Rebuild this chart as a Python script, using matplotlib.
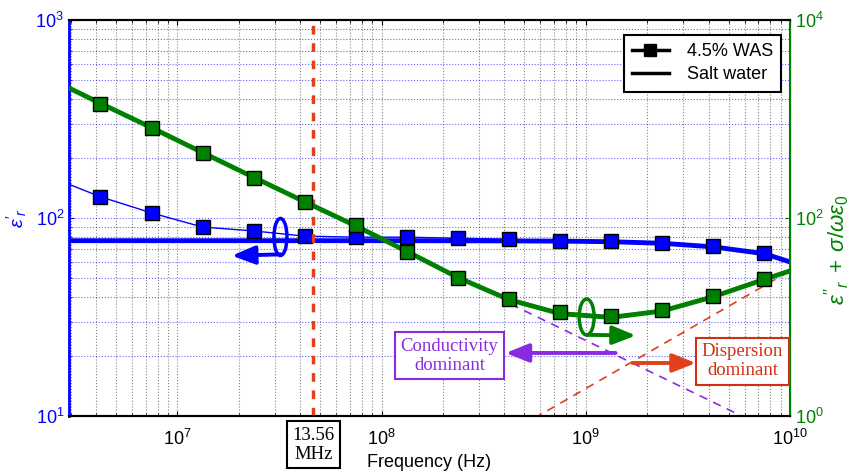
import numpy as np
import matplotlib
matplotlib.use('Agg')
import matplotlib.pyplot as plt
from matplotlib.lines import Line2D
from matplotlib.patches import Ellipse
from matplotlib.transforms import ScaledTranslation
from matplotlib.ticker import LogLocator, NullLocator, NullFormatter

plt.rcParams['font.family'] = ['Liberation Sans', 'DejaVu Sans']
plt.rcParams['mathtext.fontset'] = 'custom'
plt.rcParams['mathtext.rm'] = 'Liberation Sans'
plt.rcParams['mathtext.it'] = 'Liberation Sans:italic'
plt.rcParams['mathtext.bf'] = 'Liberation Sans:bold'

# frequency grid (Hz): left edge, measured points, right edge
freq = [2.95e6, 4.2e6, 7.5e6, 1.33e7, 2.37e7, 4.2e7, 7.5e7, 1.33e8, 2.37e8,
        4.2e8, 7.5e8, 1.33e9, 2.37e9, 4.2e9, 7.5e9, 1.0e10]

# 4.5% WAS
was_eps1 = [148, 128, 106, 90, 86, 81, 80, 80, 79, 78, 76.6, 76.6, 74.8, 72.3, 66.5, 60]
was_eps2 = [2056, 1419, 811, 454, 253, 145, 85, 45.4, 24.8, 15.2, 11.2, 10.2, 11.8, 16.3, 24.2, 29.2]

# salt water
sw_eps1 = [76.8, 76.8, 76.8, 76.8, 76.8, 76.8, 76.8, 76.8, 76.7, 76.6, 76.4, 75.9, 74.5, 71.5, 66.0, 60]
sw_eps2 = [2056, 1440, 815, 458, 257, 146, 83, 46, 25, 15, 10.8, 9.9, 11.5, 16.0, 24.0, 29.2]

# asymptotes
cond_f = [4.29e8, 5.8e9]
cond_v = [13.5, 1.0]
disp_f = [5.6e8, 1.0e10]
disp_v = [0.95, 29.2]
f_rf = 4.64e7

blue = '#0000ff'
green = '#008000'
purple = '#8a2be2'
red = '#e0401a'

fig = plt.figure(figsize=(8.51, 4.74), dpi=100)
ax = fig.add_axes([0.0811, 0.1224, 0.8472, 0.8354])
ax2 = ax.twinx()

ax.set_xscale('log')
ax.set_yscale('log')
ax2.set_yscale('log')
ax.set_xlim(2.95e6, 1e10)
ax.set_ylim(10, 1000)
ax2.set_ylim(1, 1e4)

# grid
ax.grid(True, which='both', axis='y', color=blue, ls=':', lw=0.8, alpha=0.6)
ax.grid(True, which='both', axis='x', color='#555555', ls=':', lw=0.8, alpha=0.7)
ax.set_axisbelow(True)

# left axis curves
ax.plot(freq, sw_eps1, color=blue, lw=3.5, zorder=3)
ax.plot(freq, was_eps1, color=blue, lw=1.0, marker='s', ms=10, mfc=blue,
        mec='black', mew=1.0, markevery=slice(1, -1), zorder=4)

# right axis curves
ax2.plot(freq, sw_eps2, color=green, lw=3.5, zorder=3)
ax2.plot(freq, was_eps2, color=green, lw=1.0, marker='s', ms=10, mfc=green,
         mec='black', mew=1.0, markevery=slice(1, -1), zorder=4)
ax2.plot(cond_f, cond_v, color=purple, ls=(0, (5, 4)), lw=1.2)
ax2.plot(disp_f, disp_v, color=red, ls=(0, (5, 4)), lw=1.2)
ax2.axvline(f_rf, color=red, ls=(0, (2.5, 2.5)), lw=2.5)

# ellipses + arrows
def ellipse(a, x, y, w, h, c):
    tr = fig.dpi_scale_trans + ScaledTranslation(x, y, a.transData)
    a.add_patch(Ellipse((0, 0), w, h, transform=tr, fill=False, ec=c, lw=2.5, zorder=6))

def arrow(a, x0, y0, x1, y1, c):
    a.annotate('', xy=(x1, y1), xytext=(x0, y0),
               arrowprops=dict(arrowstyle='-|>,head_width=0.4,head_length=1.0',
                               color=c, lw=2.8, shrinkA=0, shrinkB=0,
                               mutation_scale=14), zorder=6)

ellipse(ax, 3.2e7, 80.2, 0.13, 0.37, blue)
arrow(ax, 3.2e7, 65.5, 1.85e7, 64.5, blue)
ellipse(ax2, 1.01e9, 10.0, 0.15, 0.36, green)
arrow(ax2, 1.02e9, 6.6, 1.76e9, 6.5, green)
arrow(ax2, 1.40e9, 4.33, 4.05e8, 4.33, purple)
arrow(ax2, 1.70e9, 3.43, 3.46e9, 3.43, red)

# text boxes
box_kw = dict(ha='center', va='center', family='Liberation Serif', fontsize=13.5,
              linespacing=1.15, zorder=7)
ax2.text(2.15e8, 4.08, 'Conductivity\ndominant', color=purple,
         bbox=dict(boxstyle='square,pad=0.3', fc='white', ec=purple, lw=1.5), **box_kw)
ax2.text(5.85e9, 3.56, 'Dispersion\ndominant', color='#d42e12',
         bbox=dict(boxstyle='square,pad=0.3', fc='white', ec='#d42e12', lw=1.5), **box_kw)
ax2.text(f_rf, -0.073, '13.56\nMHz', transform=ax2.get_xaxis_transform(), clip_on=False,
         bbox=dict(boxstyle='square,pad=0.3', fc='white', ec='black', lw=1.5), **box_kw)

# ticks / spines
ax.xaxis.set_major_locator(LogLocator(base=10, numticks=10))
ax.xaxis.set_minor_locator(LogLocator(base=10, subs=np.arange(2, 10), numticks=20))
ax.xaxis.set_minor_formatter(NullFormatter())
ax.set_yticks([10, 100, 1000])
ax.yaxis.set_minor_locator(LogLocator(base=10, subs=np.arange(2, 10), numticks=20))
ax.yaxis.set_minor_formatter(NullFormatter())
ax2.set_yticks([1, 100, 1e4])
ax2.yaxis.set_minor_locator(NullLocator())

ax.tick_params(axis='x', which='both', direction='in', top=True, labelsize=13,
               colors='black', pad=9)
ax.tick_params(axis='y', which='both', direction='in', colors=blue, labelsize=13)
ax2.tick_params(axis='y', which='both', direction='in', colors=green, labelsize=13)
ax2.tick_params(axis='x', which='both', direction='in')

for a in (ax, ax2):
    a.spines['top'].set_color('black')
    a.spines['bottom'].set_color('black')
    a.spines['top'].set_linewidth(1.5)
    a.spines['bottom'].set_linewidth(1.5)
ax2.spines['left'].set_color(blue)
ax2.spines['left'].set_linewidth(2)
ax2.spines['right'].set_color(green)
ax2.spines['right'].set_linewidth(1.5)

ax.set_xlabel('Frequency (Hz)', fontsize=13, labelpad=4)
ax.set_ylabel(r"$\varepsilon'_r$", color=blue, fontsize=14)
ax.yaxis.set_label_coords(-0.056, 0.5)
ax2.set_ylabel(r"$\varepsilon''_r\;+\;\sigma/\omega\varepsilon_0$", color=green,
               fontsize=16, rotation=90)
ax2.yaxis.set_label_coords(1.045, 0.42)

handles = [Line2D([], [], color='black', lw=2.5, marker='s', ms=8, mfc='black'),
           Line2D([], [], color='black', lw=2.5)]
leg = ax2.legend(handles, ['4.5% WAS', 'Salt water'], loc='upper right',
                 bbox_to_anchor=(0.9875, 0.962), borderaxespad=0, fontsize=13,
                 fancybox=False, framealpha=1, edgecolor='black', handlelength=2.0,
                 labelspacing=0.35, borderpad=0.45, handletextpad=1.0)
leg.get_frame().set_linewidth(1.5)
leg.set_zorder(10)

fig.savefig('out.png', dpi=100)
